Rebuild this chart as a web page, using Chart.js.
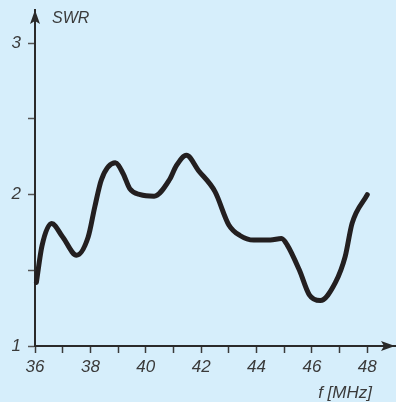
<!DOCTYPE html>
<html>
<head>
<meta charset="utf-8">
<script src="https://cdn.jsdelivr.net/npm/chart.js@4/dist/chart.umd.min.js"></script>
<style>
  html, body { margin: 0; padding: 0; background: #d6eefb; }
  #wrap { width: 396px; height: 402px; position: relative; }
</style>
</head>
<body>
<div id="wrap"><canvas id="c" width="396" height="402"></canvas></div>
<script>
// Frequencies (MHz) and SWR values
const freqMHz = [36.05, 36.25, 36.6, 37.0, 37.5, 37.92, 38.16, 38.4, 38.9, 39.18, 39.42, 39.8, 40.3, 40.86, 41.1, 41.47, 41.9, 42.5, 43.0, 43.4, 43.9, 44.5, 44.9, 45.1, 45.55, 45.9, 46.3, 46.85, 47.2, 47.45, 48.0];
const swrValues = [1.42, 1.66, 1.81, 1.72, 1.60, 1.72, 1.92, 2.10, 2.21, 2.14, 2.04, 2.00, 1.99, 2.10, 2.19, 2.26, 2.16, 2.02, 1.80, 1.73, 1.70, 1.70, 1.71, 1.67, 1.50, 1.34, 1.30, 1.42, 1.59, 1.81, 2.00];

// Axis ticks and labels
const xTicks = [36, 37, 38, 39, 40, 41, 42, 43, 44, 45, 46, 47, 48];
const xTickLabels = ['36', '', '38', '', '40', '', '42', '', '44', '', '46', '', '48'];
const yTicks = [1, 1.5, 2, 2.5, 3];
const yTickLabels = ['1', '', '2', '', '3'];
const yAxisTitle = 'SWR';
const xAxisTitle = 'f [MHz]';

const BG = '#d6eefb';
const AXIS = '#2a2a2a';
const TEXT = '#3a3a3a';
const FONT = '"Liberation Sans", Arial, sans-serif';

const decorPlugin = {
  id: 'decor',
  beforeDraw(chart) {
    const ctx = chart.ctx;
    ctx.save();
    ctx.fillStyle = BG;
    ctx.fillRect(0, 0, chart.width, chart.height);
    ctx.restore();
  },
  afterDraw(chart) {
    const ctx = chart.ctx;
    const xs = chart.scales.x, ys = chart.scales.y;
    const ax = xs.left, ay = ys.bottom;
    const top = ys.top, right = xs.right;
    ctx.save();
    ctx.fillStyle = AXIS;
    // y arrow
    ctx.beginPath();
    ctx.moveTo(ax, top);
    ctx.lineTo(ax - 5, top + 14);
    ctx.lineTo(ax, top + 11);
    ctx.lineTo(ax + 5, top + 14);
    ctx.closePath();
    ctx.fill();
    // x arrow
    ctx.beginPath();
    ctx.moveTo(right, ay);
    ctx.lineTo(right - 14, ay - 5);
    ctx.lineTo(right - 11, ay);
    ctx.lineTo(right - 14, ay + 5);
    ctx.closePath();
    ctx.fill();
    // titles
    ctx.fillStyle = TEXT;
    ctx.font = 'italic 16px ' + FONT;
    ctx.textAlign = 'left';
    ctx.textBaseline = 'middle';
    ctx.fillText(yAxisTitle, ax + 17, top + 9);
    ctx.font = 'italic 17px ' + FONT;
    ctx.textAlign = 'right';
    ctx.fillText(xAxisTitle, 372, 393);
    ctx.restore();
  }
};

new Chart(document.getElementById('c'), {
  type: 'line',
  data: {
    datasets: [{
      data: freqMHz.map((f, i) => ({ x: f, y: swrValues[i] })),
      borderColor: '#231f20',
      borderWidth: 5,
      borderCapStyle: 'round',
      borderJoinStyle: 'round',
      pointRadius: 0,
      cubicInterpolationMode: 'monotone',
      fill: false,
      clip: 8
    }]
  },
  options: {
    responsive: false,
    animation: false,
    devicePixelRatio: 1,
    layout: { padding: { top: 10, right: 1, left: 0, bottom: 0 } },
    plugins: { legend: { display: false }, tooltip: { enabled: false } },
    scales: {
      x: {
        type: 'linear',
        min: 36,
        max: 49,
        afterBuildTicks(scale) { scale.ticks = xTicks.map(v => ({ value: v })); },
        afterFit(scale) { scale.height = 56; scale.paddingRight = 0; },
        ticks: {
          autoSkip: false,
          maxRotation: 0,
          padding: 4,
          color: TEXT,
          font: { family: FONT, size: 17, style: 'italic' },
          callback: (v, i) => xTickLabels[i]
        },
        grid: { drawOnChartArea: false, drawTicks: true, tickLength: 7, tickWidth: 1.5, tickColor: '#3a3a3a' },
        border: { display: true, color: AXIS, width: 2 }
      },
      y: {
        type: 'linear',
        min: 1,
        max: 3.22,
        afterBuildTicks(scale) { scale.ticks = yTicks.map(v => ({ value: v })); },
        afterFit(scale) { scale.width = 35; scale.paddingTop = 0; },
        ticks: {
          autoSkip: false,
          padding: 7,
          color: TEXT,
          font: { family: FONT, size: 17, style: 'italic' },
          callback: (v, i) => yTickLabels[i]
        },
        grid: { drawOnChartArea: false, drawTicks: true, tickLength: 7, tickWidth: 1.5, tickColor: '#555555' },
        border: { display: true, color: AXIS, width: 2 }
      }
    }
  },
  plugins: [decorPlugin]
});
</script>
</body>
</html>
